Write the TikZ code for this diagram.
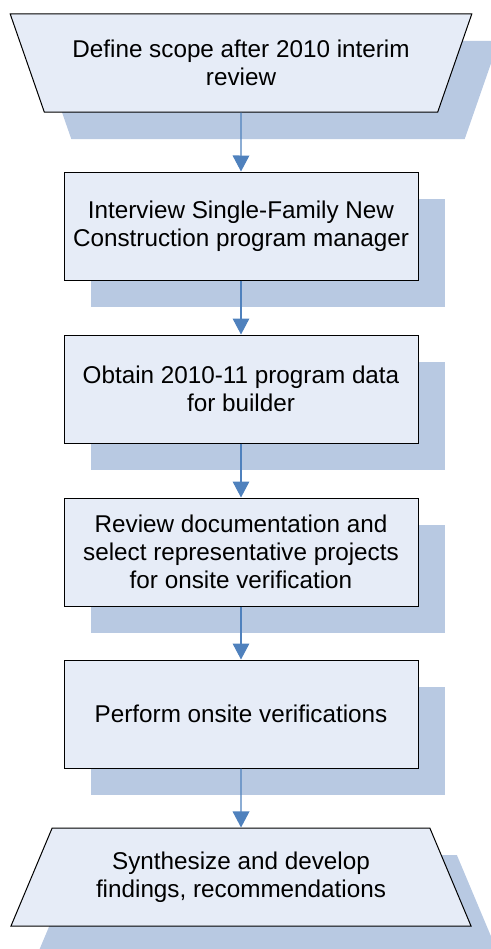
\documentclass[tikz,border=0pt]{standalone}
\usepackage{fontspec}
\setmainfont{Liberation Sans}
\usetikzlibrary{shapes.geometric,shadows,arrows.meta}

\definecolor{boxfill}{HTML}{E6ECF7}
\definecolor{shadowblue}{HTML}{B8C9E2}
\definecolor{flowblue}{HTML}{4F81BD}

\begin{document}
\begin{tikzpicture}[x=0.75pt, y=-0.75pt,
  font=\fontsize{18.2}{21.2}\selectfont,
  stepbox/.style={rectangle, draw=black, line width=0.75pt, fill=boxfill,
                        minimum width=265.5pt, minimum height=81pt, align=center,
                        drop shadow={shadow xshift=20.25pt, shadow yshift=-20.25pt,
                        fill=shadowblue, opacity=1, draw=none}},
  endbox/.style={trapezium, trapezium stretches=true, trapezium angle=61.4,
                        draw=black, line width=0.75pt, fill=boxfill,
                        minimum width=346.5pt, minimum height=73.5pt, align=center,
                        drop shadow={shadow xshift=20.25pt, shadow yshift=-20.25pt,
                        fill=shadowblue, opacity=1, draw=none}},
  flow/.style={draw=flowblue, line width=0.9pt, -{Triangle[width=12.5pt,length=12pt]}}]
\clip (0,0) rectangle (491,949);
\node[endbox, shape border rotate=180](scope) at (241,63) {Define scope after 2010 interim\\review};
\node[stepbox](interview) at (241,226) {Interview Single-Family New\\Construction program manager};
\node[stepbox](obtain) at (241,389) {Obtain 2010-11 program data\\for builder};
\node[stepbox](review) at (241,552) {Review documentation and\\select representative projects\\for onsite verification};
\node[stepbox](perform) at (241,714) {Perform onsite verifications};
\node[endbox](synth) at (241,877) {Synthesize and develop\\findings, recommendations};
\draw[flow] (scope) -- (interview);
\draw[flow] (interview) -- (obtain);
\draw[flow] (obtain) -- (review);
\draw[flow] (review) -- (perform);
\draw[flow] (perform) -- (synth);
\end{tikzpicture}
\end{document}
